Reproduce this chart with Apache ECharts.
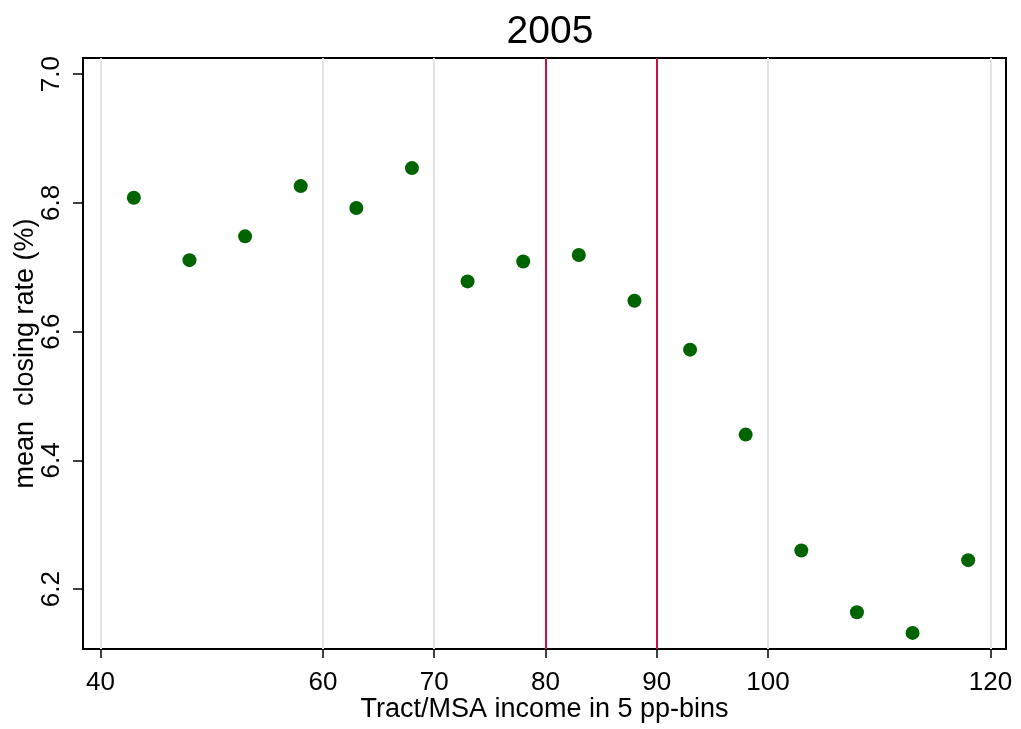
<!DOCTYPE html>
<html>
<head>
<meta charset="utf-8">
<script src="https://cdn.jsdelivr.net/npm/echarts@6/dist/echarts.min.js"></script>
<style>html,body{margin:0;padding:0;background:#fff}#c{width:1021px;height:729px}</style>
</head>
<body>
<div id="c"></div>
<script>
const titleText = '2005';
const xName = 'Tract/MSA income in 5 pp-bins';
const yName = 'mean  closing rate (%)';
const incomeBins = [43, 48, 53, 58, 63, 68, 73, 78, 83, 88, 93, 98, 103, 108, 113, 118];
const closingRate = [6.808, 6.711, 6.748, 6.826, 6.792, 6.854, 6.678, 6.709, 6.719, 6.648, 6.572, 6.440, 6.260, 6.164, 6.132, 6.245];
const xTicks = [40, 60, 70, 80, 90, 100, 120];
const yTicks = [6.2, 6.4, 6.6, 6.8, 7.0];
const refLines = [80, 90];

const font = '"Liberation Sans", Arial, sans-serif';
const chart = echarts.init(document.getElementById('c'), null, {renderer: 'canvas'});
chart.setOption({
  backgroundColor: '#fff',
  animation: false,
  title: {
    text: titleText, left: 545, top: 8, textAlign: 'center',
    textStyle: {fontFamily: font, fontSize: 39, fontWeight: 'normal', color: '#000'}
  },
  grid: {left: 83, right: 15, top: 58, bottom: 80, show: true, borderColor: '#000', borderWidth: 2, backgroundColor: '#fff',
         containLabel: false, outerBoundsMode: 'none'},
  xAxis: {
    type: 'value', min: 38.43, max: 121.4,
    name: xName, nameLocation: 'middle', nameGap: 47, nameMoveOverlap: false,
    nameTextStyle: {fontFamily: font, fontSize: 27, color: '#000'},
    axisLine: {show: true, lineStyle: {color: '#000', width: 2}},
    axisTick: {show: true, length: 9, lineStyle: {color: '#000', width: 1.5}, customValues: xTicks},
    axisLabel: {fontFamily: font, fontSize: 26, color: '#000', margin: 21, customValues: xTicks, formatter: v => String(v)},
    splitLine: {show: false}
  },
  yAxis: {
    type: 'value', min: 6.107, max: 7.025,
    name: yName, nameLocation: 'middle', nameGap: 44, nameRotate: 90, nameMoveOverlap: false,
    nameTextStyle: {fontFamily: font, fontSize: 27, color: '#000'},
    axisLine: {show: true, lineStyle: {color: '#000', width: 2}},
    axisTick: {show: true, length: 10, lineStyle: {color: '#000', width: 1.5}, customValues: yTicks},
    axisLabel: {fontFamily: font, fontSize: 26, color: '#000', margin: 18, rotate: 90, customValues: yTicks, formatter: v => v.toFixed(1)},
    splitLine: {show: false}
  },
  series: [
    {
      type: 'scatter', data: [], silent: true, z: 1,
      markLine: {
        silent: true, symbol: 'none', label: {show: false}, animation: false,
        lineStyle: {color: '#e6e2e2', width: 2, type: 'solid'},
        data: xTicks.map(v => ({xAxis: v}))
      }
    },
    {
      type: 'scatter', data: [], silent: true, z: 2,
      markLine: {
        silent: true, symbol: 'none', label: {show: false}, animation: false,
        lineStyle: {color: '#cc1040', width: 2, type: 'solid'},
        data: refLines.map(v => ({xAxis: v}))
      }
    },
    {
      type: 'scatter', z: 5,
      symbol: 'circle', symbolSize: 14,
      itemStyle: {color: '#006400', opacity: 1},
      data: incomeBins.map((x, i) => [x, closingRate[i]])
    }
  ]
});
</script>
</body>
</html>
